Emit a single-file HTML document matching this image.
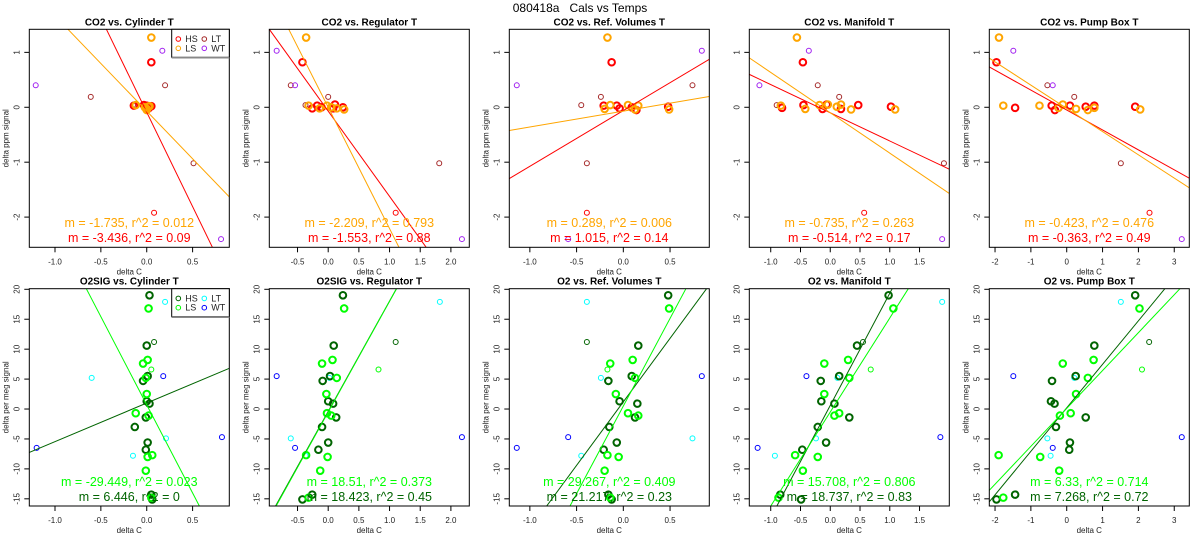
<!DOCTYPE html>
<html><head><meta charset="utf-8"><style>
html,body{margin:0;padding:0;background:#fff;width:1200px;height:550px;overflow:hidden;}
svg{display:block;font-family:"Liberation Sans",sans-serif;}
</style></head><body>
<svg id="chart" width="1200" height="550" viewBox="0 0 1200 550" xmlns="http://www.w3.org/2000/svg">
<rect x="0" y="0" width="1200" height="550" fill="#fff"/>
<text x="580" y="12" text-anchor="middle" font-size="12" style="white-space:pre" xml:space="preserve">080418a   Cals vs Temps</text>
</svg>
<script>
// ---------- data ----------
const panelTitlesTop = ["CO2 vs. Cylinder T","CO2 vs. Regulator T","CO2 vs. Ref. Volumes T","CO2 vs. Manifold T","CO2 vs. Pump Box T"];
const panelTitlesBot = ["O2SIG vs. Cylinder T","O2SIG vs. Regulator T","O2 vs. Ref. Volumes T","O2 vs. Manifold T","O2 vs. Pump Box T"];
const xLims = [[-1.28,0.90],[-0.96,2.30],[-1.22,0.92],[-1.36,2.0],[-2.16,3.42]];
const xTicks = [[-1,-0.5,0,0.5],[-0.5,0,0.5,1,1.5,2],[-1,-0.5,0,0.5],[-1,-0.5,0,0.5,1,1.5],[-2,-1,0,1,2,3]];
const xTickDigits = [1,1,1,1,0];
const yLimTop = [-2.55,1.42];
const yTicksTop = [-2,-1,0,1];
const yLimBot = [-16.2,20.1];
const yTicksBot = [-15,-10,-5,0,5,10,15,20];

// top row (CO2)
const topHSx = [[0.05,-0.14,-0.03,0.0,0.05,0.02,0.0],[-0.42,-0.18,-0.11,0.08,0.11,0.24,-0.26],[-0.125,-0.21,-0.07,0.09,0.14,0.48,-0.04],[-0.46,-0.81,-0.45,-0.13,0.18,0.47,1.02,-0.06],[-1.96,-1.44,-0.42,-0.33,0.09,0.53,0.77,1.91]];
const topHSy = [[0.82,0.03,0.04,0.0,0.02,-0.02,0.03],[0.82,0.03,0.0,-0.02,0.05,0.0,-0.02],[0.82,0.03,0.03,0.0,-0.05,0.01,-0.02],[0.82,-0.01,0.04,-0.03,-0.03,0.04,0.01,0.05],[0.82,-0.01,0.03,-0.05,0.03,0.01,0.03,0.01]];
const topLSx = [[0.05,-0.12,0.0,-0.02,0.03,0.0,0.02],[-0.36,-0.32,-0.14,-0.02,0.05,0.26,0.14],[-0.17,-0.14,-0.2,0.05,0.125,0.16,0.49],[-0.56,-0.83,-0.42,-0.18,-0.04,0.11,0.18,0.35,1.09],[-1.89,-1.77,-0.76,-0.23,-0.11,0.26,0.59,0.77,2.05]];
const topLSy = [[1.27,0.04,-0.03,0.0,0.02,-0.05,0.01],[1.27,0.03,-0.02,0.03,0.0,-0.04,-0.02],[1.27,0.04,-0.03,0.04,-0.04,0.03,-0.04],[1.27,0.03,-0.03,0.04,0.05,0.01,0.05,-0.04,-0.04],[1.27,0.03,0.03,-0.01,0.05,-0.03,-0.05,-0.01,-0.04]];
const topLTx = [[0.2,-0.61,-0.15,0.51],[-0.61,0.0,-0.37,1.81],[0.74,-0.24,-0.45,-0.39],[-0.21,0.15,-0.9,1.91],[-0.54,0.21,1.51]];
const topLTy = [[0.4,0.19,0.04,-1.02],[0.4,0.19,0.04,-1.02],[0.4,0.19,0.04,-1.02],[0.4,0.19,0.04,-1.02],[0.4,0.19,-1.02]];
const topHSthinX = [0.08,1.10,-0.39,0.57,2.31];
const topHSthinY = [-1.92,-1.92,-1.92,-1.92,-1.92];
const topWTx = [[0.17,-1.21,0.81],[-0.84,-0.54,2.18],[0.84,-1.14,-0.59],[-0.36,-1.19,1.88],[-1.49,-0.39,3.21]];
const topWTy = [[1.03,0.4,-2.4],[1.03,0.4,-2.4],[1.03,0.4,-2.4],[1.03,0.4,-2.4],[1.03,0.4,-2.4]];
const topLSslope = [-1.735,-2.209,0.289,-0.735,-0.423];
const topLSint = [-0.07,0.0,-0.07,-0.10,-0.02];
const topHSslope = [-3.436,-1.553,1.015,-0.514,-0.363];
const topHSint = [-0.09,-0.07,-0.06,-0.10,-0.05];
const topLStext = ["m = -1.735, r^2 = 0.012","m = -2.209, r^2 = 0.793","m = 0.289, r^2 = 0.006","m = -0.735, r^2 = 0.263","m = -0.423, r^2 = 0.476"];
const topHStext = ["m = -3.436, r^2 = 0.09","m = -1.553, r^2 = 0.88","m = 1.015, r^2 = 0.14","m = -0.514, r^2 = 0.17","m = -0.363, r^2 = 0.49"];

// bottom row (O2)
const botHSy = [19,10.6,5.5,4.7,1.3,0.9,-1.4,-3.0,-5.6,-6.8,-14.3,-15.1];
const botLSy = [16.8,8.2,7.6,5.2,2.5,-0.7,-1.1,-7.7,-8.0,-10.3,-14.8];
const botSmallHSy = [11.2];
const botSmallLSy = [6.6];
const botLTy = [17.9,5.2,-4.9,-7.8];
const botWTy = [5.5,-4.7,-6.5];
const botHSx = [[0.03,0.0,0.01,-0.04,0.0,0.03,-0.01,-0.13,0.01,-0.01,0.05,0.06],[0.24,0.09,0.03,-0.09,0.0,0.08,0.13,-0.1,0.0,-0.16,-0.26,-0.42],[0.48,0.16,0.09,-0.16,-0.04,0.15,0.125,-0.15,-0.07,-0.21,-0.16,-0.125],[0.98,0.45,0.15,-0.16,-0.15,0.07,0.32,-0.21,-0.07,-0.47,-0.84,-0.49],[1.91,0.77,0.25,-0.41,-0.44,-0.34,0.53,-0.3,0.09,0.07,-1.44,-1.96]];
const botLSx = [[0.02,0.01,-0.04,-0.01,0.0,-0.12,0.02,0.06,0.01,-0.01,0.05],[0.26,0.07,-0.1,0.14,-0.03,-0.02,0.05,-0.36,-0.01,-0.13,-0.32],[0.49,0.1,-0.14,0.125,-0.08,0.05,0.16,-0.17,-0.05,-0.2,-0.14],[1.06,0.3,-0.1,0.32,-0.1,0.15,0.07,-0.59,-0.21,-0.46,-0.87],[2.03,0.75,-0.11,0.59,0.26,0.11,-0.19,-1.9,-0.74,-0.21,-1.77]];
const botSmallHSx = [[0.08],[1.10],[-0.39],[0.55],[2.3]];
const botSmallLSx = [[0.05],[0.82],[-0.17],[0.68],[2.1]];
const botLTx = [[0.2,-0.6,0.21,-0.15],[1.82,0.02,-0.61,-0.37],[-0.39,-0.24,0.74,-0.45],[1.88,0.12,-0.24,-0.93],[1.51,0.21,-0.54,-0.45]];
const botWTx = [[0.18,0.82,-1.2],[-0.84,2.18,-0.54],[0.84,-0.59,-1.14],[-0.4,1.85,-1.22],[-1.49,3.21,-0.39]];
const botLSslope = [-29.449,18.51,29.267,15.708,6.33];
const botLSint = [0.7,-0.5,0.5,-0.5,0.1];
const botHSslope = [6.446,18.423,21.217,18.737,7.268];
const botHSint = [1.0,-0.4,1.2,0.6,0.2];
const botLStext = ["m = -29.449, r^2 = 0.023","m = 18.51, r^2 = 0.373","m = 29.267, r^2 = 0.409","m = 15.708, r^2 = 0.806","m = 6.33, r^2 = 0.714"];
const botHStext = ["m = 6.446, r^2 = 0","m = 18.423, r^2 = 0.45","m = 21.217, r^2 = 0.23","m = 18.737, r^2 = 0.83","m = 7.268, r^2 = 0.72"];

// ---------- drawing ----------
const NS = "http://www.w3.org/2000/svg";
const svg = document.getElementById("chart");
const boxLeft = [29.3,269.3,509.3,749.3,989.3];
const boxW = 200;
const rowTop = [29.3,288.7];
const rowBot = [247.3,506];

function mk(tag, attrs, parent){
  const e = document.createElementNS(NS, tag);
  for (const k in attrs) e.setAttribute(k, attrs[k]);
  (parent||svg).appendChild(e);
  return e;
}

// clip line y = m x + b to the box [x0,x1] x [y0,y1] in data coords
function clipLine(m, b, x0, x1, y0, y1){
  let a = x0, c = x1;
  if (m !== 0) {
    const xa = (y0 - b) / m, xb = (y1 - b) / m;
    const lo = Math.min(xa, xb), hi = Math.max(xa, xb);
    a = Math.max(a, lo); c = Math.min(c, hi);
  }
  return [a, c];
}

function drawPanel(col, row, cfg){
  const L = boxLeft[col], T = rowTop[row], B = rowBot[row], R = L + boxW;
  const xl = xLims[col], yl = cfg.ylim;
  const sx = v => L + (v - xl[0]) / (xl[1] - xl[0]) * boxW;
  const sy = v => B - (v - yl[0]) / (yl[1] - yl[0]) * (B - T);
  const g = mk("g", {});
  
  
  const cid = "clip" + row + "_" + col;
  const cp = mk("clipPath", {id: cid}, g);
  mk("rect", {x: L, y: T, width: boxW, height: B - T}, cp);

  const t = mk("text", {x: L + boxW/2, y: T - 4, "text-anchor": "middle", "font-size": 10, "font-weight": "bold"}, g);
  t.textContent = cfg.title;
  
  

  xTicks[col].forEach(v => {
    const px = sx(v);
    const tl = mk("line", {x1: px, x2: px, y1: B, y2: B + 5, stroke: "#000", "stroke-width": 1}, g);
    
    
    const tx = mk("text", {x: px, y: B + 17, "text-anchor": "middle", "font-size": 8, fill: "#222"}, g);
    tx.textContent = v.toFixed(xTickDigits[col]);
    
    
  });
  cfg.yticks.forEach(v => {
    const py = sy(v);
    const tl = mk("line", {x1: L - 5, x2: L, y1: py, y2: py, stroke: "#000", "stroke-width": 1}, g);
    
    
    const tx = mk("text", {x: 0, y: 0, "text-anchor": "middle", "font-size": 8, fill: "#222", transform: "translate(" + (L - 10) + "," + py + ") rotate(-90)"}, g);
    tx.textContent = String(v);
    
    
  });
  const xlb = mk("text", {x: L + boxW/2, y: B + 27, "text-anchor": "middle", "font-size": 8, fill: "#222"}, g);
  xlb.textContent = "delta C";
  
  
  if (col !== 3) {
    const ylb = mk("text", {x: 0, y: 0, "text-anchor": "middle", "font-size": 8, fill: "#222", transform: "translate(" + (L - 21) + "," + ((T + B)/2) + ") rotate(-90)"}, g);
    ylb.textContent = cfg.ylabel;
    
    
  }

  const pg = mk("g", {"clip-path": "url(#" + cid + ")"}, g);
  cfg.series.forEach(s => {
    s.x.forEach((xv, i) => {
      const c = mk("circle", {cx: sx(xv), cy: sy(s.y[i]), r: s.r, fill: "none", stroke: s.color, "stroke-width": s.w}, pg);
      
      
    });
  });
  cfg.lines.forEach(ln => {
    const [xa, xb] = clipLine(ln.m, ln.b, xl[0], xl[1], yl[0], yl[1]);
    const l = mk("line", {x1: sx(xa), y1: sy(ln.m * xa + ln.b), x2: sx(xb), y2: sy(ln.m * xb + ln.b), stroke: ln.color, "stroke-width": 1}, pg);
    
    
  });
  cfg.notes.forEach(n => {
    const a = mk("text", {x: L + boxW/2, y: n.y, "text-anchor": "middle", "font-size": 12.5, fill: n.color}, g);
    a.textContent = n.text;
    
    
  });
  const fr = mk("rect", {x: L, y: T, width: boxW, height: B - T, fill: "none", stroke: "#000", "stroke-width": 1}, g);
  
  

  if (col === 0) {
    const lg = mk("g", {}, g);
    
    
    mk("rect", {x: 171.7, y: T, width: R - 171.7, height: 28, fill: "#fff", stroke: "#000", "stroke-width": 1}, lg);
    mk("line", {x1: 171.7, x2: R, y1: T + 28.5, y2: T + 28.5, stroke: "#888", "stroke-width": 1.5}, lg);
    const order = [0, 2, 1, 3];
    for (let i = 0; i < 4; i++) {
      const ex = i % 2 === 0 ? 178.3 : 204.3;
      const ey = T + (i < 2 ? 9.7 : 19);
      const it = cfg.legend[order[i]];
      const c = mk("circle", {cx: ex, cy: ey, r: 2.3, fill: "none", stroke: it.color, "stroke-width": 1}, lg);
      
      
      const tt = mk("text", {x: ex + 7, y: ey + 3, "font-size": 9, fill: "#222"}, lg);
      tt.textContent = it.label;
      
      
    }
  }
}

for (let c = 0; c < 5; c++) {
  drawPanel(c, 0, {
    name: "co2-panel-" + (c+1), title: panelTitlesTop[c], ylim: yLimTop, yticks: yTicksTop, ylabel: "delta ppm signal",
    series: [
      {x: topLTx[c], y: topLTy[c], color: "#a52a2a", r: 2.5, w: 1, pname: "point-lt"},
      {x: topWTx[c], y: topWTy[c], color: "#a020f0", r: 2.5, w: 1, pname: "point-wt"},
      {x: [topHSthinX[c]], y: [topHSthinY[c]], color: "#ff0000", r: 2.5, w: 1, pname: "point-hs-thin"},
      {x: topHSx[c], y: topHSy[c], color: "#ff0000", r: 3.3, w: 2, pname: "point-hs"},
      {x: topLSx[c], y: topLSy[c], color: "#ffa500", r: 3.3, w: 2, pname: "point-ls"}
    ],
    lines: [
      {m: topHSslope[c], b: topHSint[c], color: "#ff0000", name: "hs-fit-line"},
      {m: topLSslope[c], b: topLSint[c], color: "#ffa500", name: "ls-fit-line"}
    ],
    notes: [
      {text: topLStext[c], y: 227, color: "#ffa500", name: "ls-fit-label"},
      {text: topHStext[c], y: 242, color: "#ff0000", name: "hs-fit-label"}
    ],
    legend: [{label: "HS", color: "#ff0000"}, {label: "LS", color: "#ffa500"}, {label: "LT", color: "#a52a2a"}, {label: "WT", color: "#a020f0"}]
  });
  drawPanel(c, 1, {
    name: "o2-panel-" + (c+1), title: panelTitlesBot[c], ylim: yLimBot, yticks: yTicksBot, ylabel: "delta per meg signal",
    series: [
      {x: botLTx[c], y: botLTy, color: "#00ffff", r: 2.5, w: 1, pname: "point-lt"},
      {x: botWTx[c], y: botWTy, color: "#0000ff", r: 2.5, w: 1, pname: "point-wt"},
      {x: botSmallHSx[c], y: botSmallHSy, color: "#006400", r: 2.5, w: 1, pname: "point-hs-thin"},
      {x: botSmallLSx[c], y: botSmallLSy, color: "#00ff00", r: 2.5, w: 1, pname: "point-ls-thin"},
      {x: botHSx[c], y: botHSy, color: "#006400", r: 3.3, w: 2, pname: "point-hs"},
      {x: botLSx[c], y: botLSy, color: "#00ff00", r: 3.3, w: 2, pname: "point-ls"}
    ],
    lines: [
      {m: botHSslope[c], b: botHSint[c], color: "#006400", name: "hs-fit-line"},
      {m: botLSslope[c], b: botLSint[c], color: "#00ff00", name: "ls-fit-line"}
    ],
    notes: [
      {text: botLStext[c], y: 486, color: "#00ff00", name: "ls-fit-label"},
      {text: botHStext[c], y: 501, color: "#006400", name: "hs-fit-label"}
    ],
    legend: [{label: "HS", color: "#006400"}, {label: "LS", color: "#00ff00"}, {label: "LT", color: "#00ffff"}, {label: "WT", color: "#0000ff"}]
  });
}
</script>
</body></html>
